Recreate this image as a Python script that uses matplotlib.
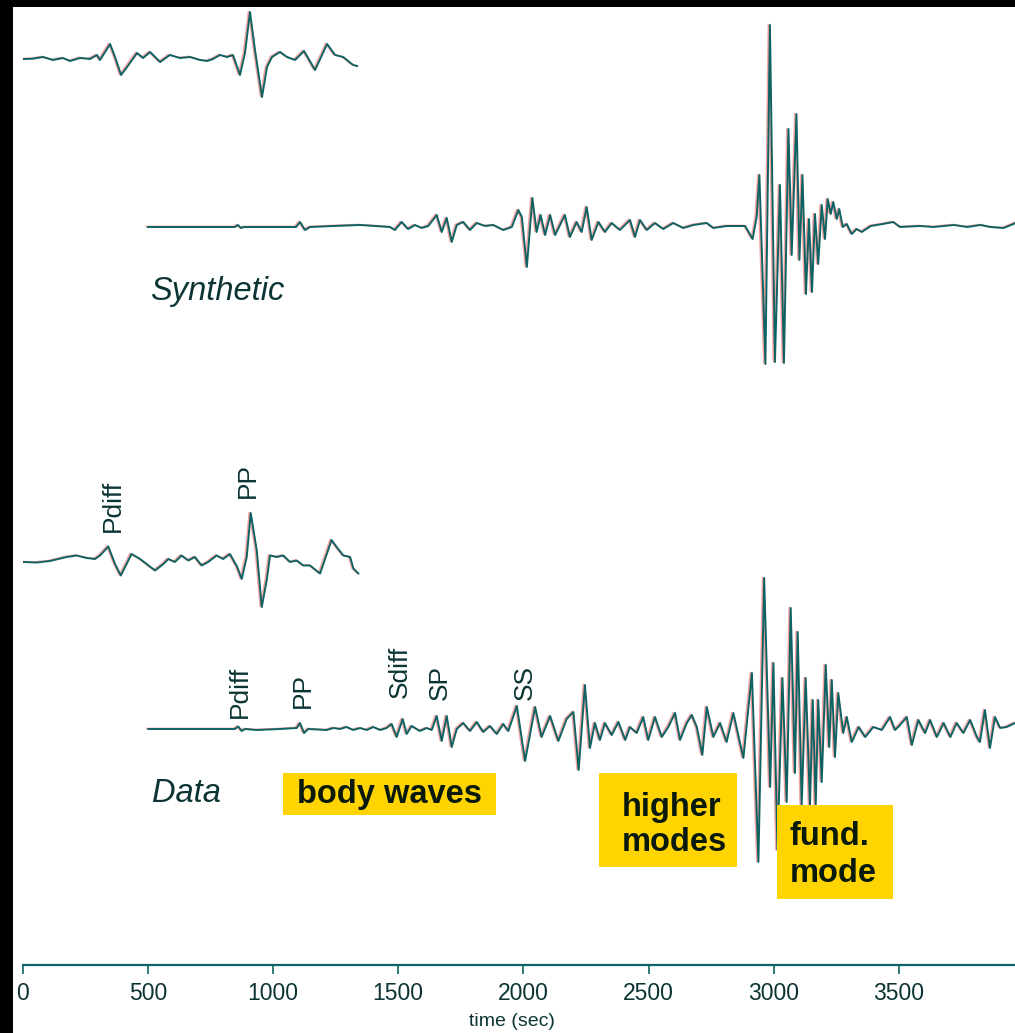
import matplotlib
matplotlib.use("Agg")
import matplotlib.pyplot as plt
import matplotlib.transforms as mtransforms
from matplotlib.patches import Rectangle
import numpy as np

plt.rcParams['font.family'] = ['Liberation Sans', 'DejaVu Sans']

# --- traces: time (sec) and amplitude (arbitrary units) ---
# synthetic, body-wave window (top left)
syn_body_t = [0, 41, 81, 121, 161, 189, 229, 269, 297, 309,
              349, 369, 393, 417, 457, 481, 509, 549, 588, 628,
              669, 708, 737, 760, 788, 817, 840, 868, 888, 908,
              928, 956, 976, 996, 1028, 1056, 1088, 1124, 1168, 1216,
              1248, 1280, 1320, 1336]
syn_body_a = [0, 0.3, 2, -1, 1, -2, 1, 0, 4, -1,
              15, 2, -16, -8, 6, 1, 7, -3, 4, 1,
              2, -1, -2, 0, 4, 2, 4, -16, 6, 47,
              9, -38, -8, 2, 7, 2, -1, 8, -11, 15,
              4, 2, -6, -7]

# synthetic, full record
syn_full_t = [500, 848, 860, 872, 885, 1092, 1108, 1128, 1148, 1240,
              1347, 1467, 1487, 1514, 1540, 1567, 1594, 1620, 1654, 1674,
              1694, 1714, 1734, 1760, 1787, 1814, 1847, 1880, 1920, 1954,
              1980, 1994, 2014, 2036, 2053, 2069, 2087, 2107, 2127, 2166,
              2186, 2213, 2233, 2253, 2273, 2300, 2326, 2353, 2386, 2426,
              2446, 2466, 2493, 2526, 2559, 2599, 2639, 2679, 2733, 2759,
              2812, 2886, 2916, 2932, 2943, 2967, 2985, 3005, 3025, 3041,
              3059, 3072, 3091, 3103, 3115, 3129, 3141, 3153, 3165, 3178,
              3192, 3205, 3216, 3228, 3238, 3252, 3262, 3276, 3292, 3312,
              3332, 3352, 3388, 3436, 3478, 3505, 3585, 3639, 3720, 3774,
              3826, 3866, 3918, 3958, 3964]
syn_full_a = [0, 0, 2, -1, 0, 0, 5, -3, 0, 1,
              2, 0, -3, 5, -2, 2, -1, 1, 12, -5,
              9, -15, 2, 5, -3, 4, 1, 2, -3, 0,
              17, 10, -40, 29, -5, 12, -8, 12, -8, 12,
              -10, 5, -5, 20, -13, 5, -5, 4, -3, 7,
              -10, 7, -3, 4, -2, 4, -1, 2, 4, -1,
              1, 1, -12, 10, 52, -137, 202, -135, 42, -136,
              98, -28, 113, -33, 52, -67, 8, -65, 13, -37,
              22, -12, 28, 13, 25, 8, 18, 0, 3, -7,
              -2, -5, 1, 3, 5, 0, 1, 0, 2, 0,
              2, 0, -1, 3, 4]

# data, body-wave window
dat_body_t = [0, 56, 109, 176, 216, 256, 289, 309, 342, 369,
              392, 415, 435, 469, 495, 529, 562, 582, 608, 635,
              662, 688, 715, 741, 775, 801, 828, 857, 875, 895,
              911, 935, 955, 975, 988, 1015, 1041, 1068, 1095, 1121,
              1148, 1188, 1234, 1254, 1281, 1308, 1321, 1341]
dat_body_a = [0, -0.5, 1, 5, 6.5, 4, 3, 6.5, 15.5, -2,
              -13.5, -2, 8, 3, -2, -8.5, -2, 3, 0, 6.5,
              1.5, 5, -3.5, 0, 6.5, 3, 8, -5, -17, 5,
              49, 11.7, -45, -18, 6.5, 5, 6.5, 0, 1.5, -3.5,
              -3.5, -11.5, 22, 15, 6.5, 5, -6.5, -11.5]

# data, full record
dat_full_t = [502, 848, 861, 875, 888, 935, 1028, 1095, 1108, 1124,
              1141, 1214, 1241, 1268, 1294, 1321, 1348, 1374, 1401, 1428,
              1454, 1474, 1494, 1518, 1534, 1554, 1587, 1614, 1634, 1654,
              1674, 1694, 1714, 1734, 1760, 1787, 1814, 1840, 1867, 1894,
              1920, 1940, 1974, 2007, 2047, 2073, 2107, 2140, 2173, 2200,
              2221, 2246, 2266, 2286, 2306, 2326, 2353, 2380, 2407, 2426,
              2453, 2479, 2499, 2526, 2553, 2579, 2606, 2626, 2653, 2673,
              2693, 2715, 2733, 2759, 2786, 2812, 2839, 2879, 2913, 2939,
              2962, 2986, 2999, 3015, 3035, 3052, 3068, 3085, 3096, 3112,
              3128, 3145, 3156, 3168, 3178, 3192, 3208, 3222, 3232, 3245,
              3258, 3278, 3292, 3312, 3340, 3366, 3398, 3432, 3465, 3485,
              3505, 3532, 3552, 3578, 3605, 3625, 3652, 3679, 3706, 3731,
              3758, 3785, 3812, 3824, 3844, 3864, 3884, 3905, 3931, 3964]
dat_full_a = [0, 0, 2.5, -2, 0, -1, 0, 1, 6, -4,
              0, -1, 1, 0, 2, -1, 1, -1, 2, -1,
              1, 5, -8, 10, -5, 3, -2, 1, -1, 13,
              -12, 13, -18, 0, 6, -2, 7, -3, 3, -5,
              5, -2, 23, -32, 22, -8, 13, -12, 10, 17,
              -41, 44, -19, 6, -11, 6, -6, 7, -11, 2,
              -4, 12, -11, 12, -8, 2, 16, -11, 6, 14,
              2, -26, 22, -8, 6, -13, 16, -29, 56, -133,
              151, -58, 66, -121, 51, -73, 121, -44, 97, -76,
              51, -76, 29, -76, 29, -53, 64, -18, 49, -28,
              36, -4, 12, -13, 2, -8, 2, -1, 12, -1,
              4, 12, -16, 9, -4, 9, -8, 6, -8, 6,
              -4, 9, -8, -13, 19, -19, 12, 1, 2, 6]

# trace baselines on the page
baselines = {'syn_body': 906, 'syn_full': 738, 'dat_body': 403, 'dat_full': 236}

phase_labels_body = [('Pdiff', 361, 433), ('PP', 900, 467)]
phase_labels_full = [('Pdiff', 869, 247), ('PP', 1120, 257), ('Sdiff', 1508, 267),
                     ('SP', 1667, 265), ('SS', 2007, 265)]

xticks = [0, 500, 1000, 1500, 2000, 2500, 3000, 3500]

W, H = 1015, 1033
LINE = '#0f6262'
TXT = '#0c3434'
GOLD = '#ffd400'

fig = plt.figure(figsize=(W / 100, H / 100), dpi=100, facecolor='white')
x0 = 22.7
ax = fig.add_axes([x0 / W, (H - 965) / H, (W - x0) / W, (965 - 7) / H])
ax.set_facecolor('none')
ax.set_xlim(0, 3964)
ax.set_ylim(0, 958)

red_shift = mtransforms.offset_copy(ax.transData, fig=fig, x=-1.5, y=0.5, units='dots')


def draw_trace(t, a, base):
    t = np.asarray(t, float)
    y = base + np.asarray(a, float)
    ax.plot(t, y, color='#f07a7a', lw=1.2, alpha=0.7, transform=red_shift,
            solid_joinstyle='round', zorder=2)
    ax.plot(t, y, color=LINE, lw=1.4, solid_joinstyle='round', zorder=3)


draw_trace(syn_body_t, syn_body_a, baselines['syn_body'])
draw_trace(syn_full_t, syn_full_a, baselines['syn_full'])
draw_trace(dat_body_t, dat_body_a, baselines['dat_body'])
draw_trace(dat_full_t, dat_full_a, baselines['dat_full'])

# phase names
for name, t, y in phase_labels_body + phase_labels_full:
    ax.text(t, y, name, rotation=90, ha='center', va='bottom',
            fontsize=19, color=TXT)

ax.text(510, 674, 'Synthetic', style='italic', fontsize=23.5, color=TXT,
        ha='left', va='center')
ax.text(516, 172, 'Data', style='italic', fontsize=23.5, color=TXT,
        ha='left', va='center')

# yellow boxes
ax.add_patch(Rectangle((1040, 150), 851, 42, facecolor=GOLD, edgecolor='none', zorder=5))
ax.add_patch(Rectangle((2302, 98), 551, 94, facecolor=GOLD, edgecolor='none', zorder=5))
ax.add_patch(Rectangle((3014, 66), 463, 94, facecolor=GOLD, edgecolor='none', zorder=5))
ax.text(1096, 171, 'body waves', fontsize=23.5, fontweight='bold', color='#0a1a0a',
        ha='left', va='center', zorder=6)
ax.text(2394, 140, 'higher\nmodes', fontsize=23.5, fontweight='bold', color='#0a1a0a',
        ha='left', va='center', linespacing=1.15, zorder=6)
ax.text(3065, 110, 'fund.\nmode', fontsize=23.5, fontweight='bold', color='#0a1a0a',
        ha='left', va='center', linespacing=1.27, zorder=6)

# time axis
for s in ['top', 'left', 'right']:
    ax.spines[s].set_visible(False)
ax.spines['bottom'].set_color(LINE)
ax.spines['bottom'].set_linewidth(1.6)
ax.set_yticks([])
ax.set_xticks(xticks)
ax.set_xticklabels([str(v) for v in xticks])
ax.tick_params(axis='x', direction='out', length=6.5, width=1.2, color=LINE,
               labelsize=16.5, labelcolor=TXT, pad=6)
fig.text(512 / W, 1 - 1022 / H, 'time (sec)', ha='center', va='center',
         fontsize=14, color=TXT)

# black frame strips on top and left
fig.add_artist(Rectangle((0, 0), 13 / W, 1, transform=fig.transFigure,
                         facecolor='black', edgecolor='none', zorder=10))
fig.add_artist(Rectangle((0, 1 - 7 / H), 1, 7 / H, transform=fig.transFigure,
                         facecolor='black', edgecolor='none', zorder=10))

fig.savefig('out.png', dpi=100, facecolor='white')
